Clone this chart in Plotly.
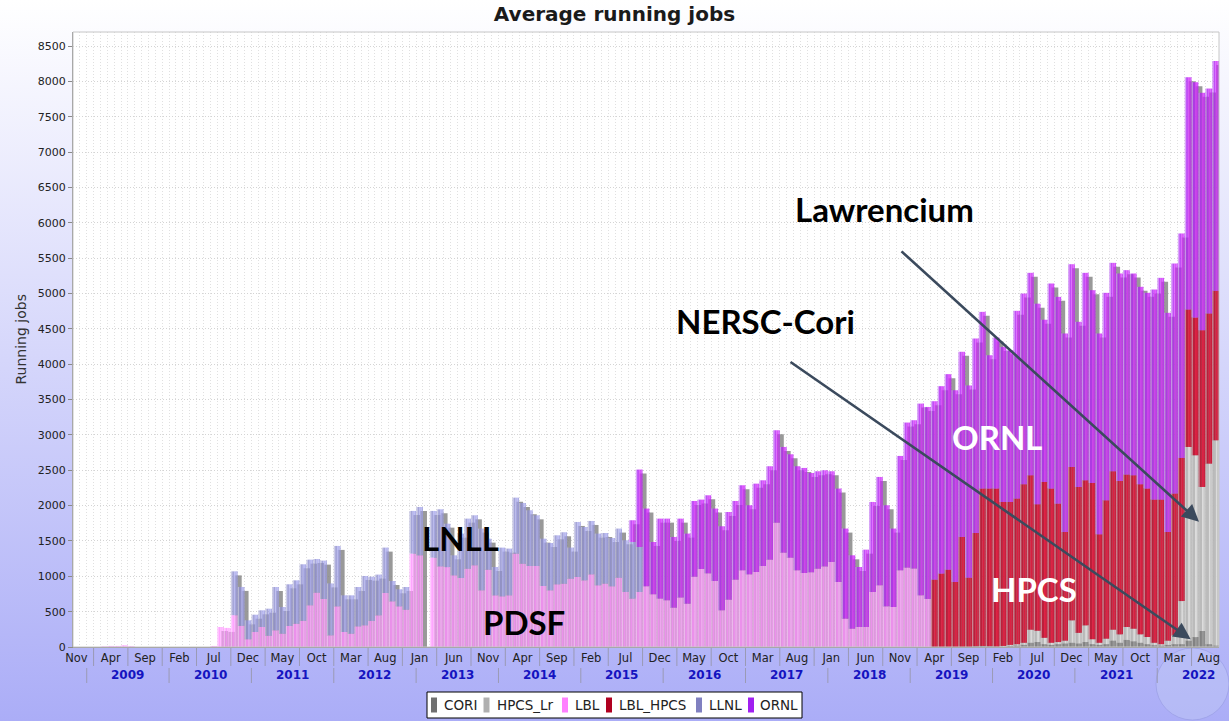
import base64
import pandas as pd
import plotly.graph_objects as go

# ---------------------------------------------------------------- data
months = pd.period_range("2008-11", "2022-09", freq="M")      # 167 monthly bins
N = len(months)
month_ticks = list(range(0, N, 5))
month_tick_labels = [months[i].strftime("%b") for i in month_ticks]
years = list(range(2009, 2023))
series_names = ["CORI", "HPCS_Lr", "LBL", "LBL_HPCS", "LLNL", "ORNL"]

Z12 = [0] * 12

CORI = ([0, 0]                                                    # 2008 Nov-Dec
        + Z12 * 10                                                # 2009-2018
        + [0, 0, 0, 0, 0, 0, 0, 0, 0, 10, 15, 10]                 # 2019
        + [5, 5, 15, 20, 30, 60, 70, 40, 30, 40, 50, 60]          # 2020
        + [50, 70, 40, 30, 40, 90, 60, 100, 80, 60, 40, 25]       # 2021
        + [20, 30, 40, 40, 90, 140, 226, 40, 20])                 # 2022 Jan-Sep

HPCS_Lr = ([0, 0]
           + Z12 * 11                                             # 2009-2019
           + [0, 10, 15, 20, 30, 185, 160, 90, 30, 30, 40, 317]   # 2020
           + [150, 236, 70, 30, 78, 155, 119, 183, 179, 119, 101, 35]  # 2021
           + [20, 60, 125, 610, 2740, 2572, 2038, 2554, 2904])    # 2022

LBL = ([0, 0]
       + [0, 0, 8, 15, 15, 25, 12, 0, 0, 0, 0, 0]                          # 2009
       + [0, 0, 0, 0, 0, 0, 15, 283, 270, 450, 300, 110]                   # 2010
       + [212, 283, 160, 236, 189, 297, 330, 370, 590, 769, 679, 165]      # 2011
       + [575, 212, 189, 292, 307, 368, 448, 764, 646, 575, 528, 1321]     # 2012
       + [1297, 0, 1264, 1141, 1130, 1014, 976, 1108, 1156, 802, 1094, 731]  # 2013
       + [717, 731, 1321, 1179, 1146, 1146, 863, 802, 887, 896, 967, 991]  # 2014
       + [943, 1028, 873, 897, 859, 981, 778, 685, 778, 859, 746, 685]     # 2015
       + [661, 557, 700, 613, 995, 1104, 1042, 934, 519, 670, 953, 1085]   # 2016
       + [1028, 1061, 1146, 1236, 1759, 1335, 1264, 1085, 1047, 1057, 1108, 1140]  # 2017
       + [1203, 920, 401, 259, 283, 283, 778, 873, 575, 566, 1085, 1123]   # 2018
       + [1110, 731, 680, 0, 0, 0, 0, 0, 0, 0, 0, 0]                       # 2019
       + Z12 * 2 + [0] * 9)                                                # 2020-2022

LBL_HPCS = ([0, 0]
            + Z12 * 10
            + [0, 0, 0, 953, 1038, 1094, 920, 1557, 981, 1603, 2226, 2231]        # 2019
            + [2236, 2037, 2022, 2059, 2242, 2184, 1789, 2205, 2181, 1958, 1537, 2170]  # 2020
            + [2064, 2052, 2211, 1534, 1957, 2241, 2170, 2156, 2170, 2123, 2100, 2025]  # 2021
            + [2045, 1537, 2005, 2025, 1944, 1948, 2217, 2124, 2114])             # 2022

LLNL = ([0, 0]
        + Z12                                                            # 2009
        + [0, 0, 0, 0, 0, 0, 0, 0, 0, 620, 550, 267]                     # 2010
        + [245, 236, 382, 613, 377, 590, 613, 800, 646, 476, 543, 735]   # 2011
        + [855, 519, 542, 557, 698, 627, 576, 642, 288, 241, 321, 604]   # 2012
        + [684, 0, 661, 807, 615, 283, 628, 708, 707, 873, 439, 401]     # 2013
        + [689, 661, 792, 859, 788, 717, 670, 669, 693, 727, 439, 778]   # 2014
        + [755, 755, 731, 716, 683, 694, 732, 801, 637, 0, 0, 0]         # 2015
        + Z12 * 6 + [0] * 9)                                             # 2016-2022

ORNL = ([0, 0]
        + Z12 * 6                                                              # 2009-2014
        + [0, 0, 0, 0, 0, 0, 0, 307, 1095, 1099, 740, 1131]                    # 2015
        + [1155, 1000, 1116, 991, 1071, 981, 1104, 1024, 1189, 1240, 1113, 1203]  # 2016
        + [977, 1250, 1212, 1321, 1307, 1495, 1462, 1472, 1486, 1405, 1378, 1360]  # 2017
        + [1283, 1321, 1274, 1038, 849, 1094, 1274, 1533, 1430, 1109, 1618, 2052]  # 2018
        + [2098, 2712, 2716, 2524, 2652, 2766, 2712, 2619, 2719, 2751, 2500, 1886]  # 2019
        + [2136, 2193, 2146, 2656, 2698, 2864, 2838, 2295, 2901, 2925, 2808, 2868]  # 2020
        + [2336, 2935, 2727, 2841, 2935, 2948, 2935, 2892, 2855, 2793, 2769, 2972]  # 2021
        + [3137, 3100, 3255, 3175, 3286, 3330, 3359, 3182, 3252])              # 2022

stack = [CORI, HPCS_Lr, LBL, LBL_HPCS, LLNL, ORNL]

# ---------------------------------------------------------------- styling
BASE_RGB = {"CORI": (112, 112, 112), "HPCS_Lr": (176, 176, 176), "LBL": (255, 128, 255),
            "LBL_HPCS": (176, 0, 32), "LLNL": (128, 128, 192), "ORNL": (160, 32, 240)}
ALPHA = 0.8
W, H = 1229, 721
ML, MR, MT, MB = 73, 10, 32, 74
PW, PH = W - ML - MR, H - MT - MB
YMAX = 8700
PX_X = PW / N
PX_Y = PH / YMAX
SH_DX = 4 / PX_X          # 4 px shadow offset, in data units
SH_DY = 4 / PX_Y

# gradient bar painter pieces: (start, end within slot, target, mix)
PIECES = [(0.0, 0.2, "w", 0.5), (0.2, 0.5, "b", 0.25), (0.5, 0.8, "b", 0.75), (0.8, 1.0, "b", 0.5)]


def brighter(c):
    f = 0.7
    k = int(1.0 / (1.0 - f))
    if c == (0, 0, 0):
        return (k, k, k)
    c = tuple(k if 0 < v < k else v for v in c)
    return tuple(min(int(v / f), 255) for v in c)


def mix(a, b, t):
    return tuple(round(a[j] + (b[j] - a[j]) * t) for j in range(3))


def rgba(c, a):
    return "rgba(%d,%d,%d,%.2f)" % (c[0], c[1], c[2], a)


def px_to_paper(px, py):
    return (px - ML) / PW, (H - MB - py) / PH


fig = go.Figure()
xs = list(range(N))
totals = [sum(s[i] for s in stack) for i in xs]

# shadows (drawn first, offset 4px right and 4px down)
sidx = [i for i in xs if totals[i] > SH_DY]
fig.add_bar(x=sidx, y=[totals[i] - SH_DY for i in sidx], base=0,
            offset=-0.5 + SH_DX, width=1.0,
            marker=dict(color=rgba((128, 128, 128), ALPHA), line=dict(width=0)),
            showlegend=False, hoverinfo="skip")

cum = [0] * N
for name, vals in zip(series_names, stack):
    c0 = BASE_RGB[name]
    c1 = brighter(c0)
    idx = [i for i in xs if vals[i] > 0]
    for s0, s1, tgt, t in PIECES:
        col = mix(c0, (255, 255, 255) if tgt == "w" else c1, t)
        fig.add_bar(x=idx, y=[vals[i] for i in idx], base=[cum[i] for i in idx],
                    offset=s0 - 0.5, width=s1 - s0, name=name, legendgroup=name,
                    marker=dict(color=rgba(col, ALPHA), line=dict(width=0)),
                    showlegend=False,
                    customdata=[str(months[i]) for i in idx],
                    hovertemplate=name + " %{customdata}: %{y}<extra></extra>")
    cum = [cum[i] + vals[i] for i in xs]

# ---------------------------------------------------------------- background
svg = ('<svg xmlns="http://www.w3.org/2000/svg" width="%d" height="%d">'
       '<defs><linearGradient id="g" x1="0" y1="0" x2="0" y2="1">'
       '<stop offset="0" stop-color="#ffffff"/><stop offset="1" stop-color="#abadf7"/>'
       '</linearGradient></defs><rect width="%d" height="%d" fill="url(#g)"/></svg>') % (W, H, W, H)
src = "data:image/svg+xml;base64," + base64.b64encode(svg.encode()).decode()
fig.add_layout_image(source=src, xref="paper", yref="paper", x=-ML / PW, y=1 + MT / PH,
                     sizex=W / PW, sizey=H / PH, xanchor="left", yanchor="top",
                     sizing="stretch", layer="below")

shapes = [dict(type="rect", xref="paper", yref="paper", x0=0, x1=1, y0=0, y1=1,
               fillcolor="white", line=dict(width=0), layer="below")]
# globe logo hint
gx0, gy0 = px_to_paper(1156, 720)
gx1, gy1 = px_to_paper(1229, 648)
shapes.append(dict(type="circle", xref="paper", yref="paper", x0=gx0, x1=gx1, y0=gy0, y1=gy1,
                   fillcolor="rgba(190,196,245,0.55)", line=dict(color="rgba(150,155,225,0.6)", width=1),
                   layer="below"))
# plot border
shapes.append(dict(type="rect", xref="paper", yref="paper", x0=0, x1=1, y0=0, y1=1,
                   line=dict(color="#c6c6c6", width=1), fillcolor="rgba(0,0,0,0)", layer="above"))
# month-label separators
for k in range(len(month_ticks) - 1):
    xv = month_ticks[k] + 2.5
    shapes.append(dict(type="line", xref="x", yref="paper", x0=xv, x1=xv,
                       y0=-(648 - (H - MB)) / PH, y1=-(666 - (H - MB)) / PH,
                       line=dict(color="#9a9ab4", width=1)))
# year separators
jan_idx = {y: (y - 2009) * 12 + 2 for y in years}
for y in years:
    xv = jan_idx[y] - 0.5
    shapes.append(dict(type="line", xref="x", yref="paper", x0=xv, x1=xv,
                       y0=-(668 - (H - MB)) / PH, y1=-(683 - (H - MB)) / PH,
                       line=dict(color="#9a9ab4", width=1)))

# manual legend
lx0, ly0 = px_to_paper(427, 718)
lx1, ly1 = px_to_paper(802, 692)
shapes.append(dict(type="rect", xref="paper", yref="paper", x0=lx0, x1=lx1, y0=ly0, y1=ly1,
                   fillcolor="white", line=dict(color="black", width=1)))
legend_swatch_x = [431, 483.5, 562, 606, 696, 748]
legend_text_x = [442, 495, 573, 617, 707, 758]
annotations = []
for name, sx, tx in zip(series_names, legend_swatch_x, legend_text_x):
    a0, b0 = px_to_paper(sx, 712.5)
    a1, b1 = px_to_paper(sx + 6, 697.5)
    shapes.append(dict(type="rect", xref="paper", yref="paper", x0=a0, x1=a1, y0=b0, y1=b1,
                       fillcolor=rgba(BASE_RGB[name], 1), line=dict(width=0)))
    tpx, tpy = px_to_paper(tx, 705)
    annotations.append(dict(text=name, xref="paper", yref="paper", x=tpx, y=tpy,
                            xanchor="left", yanchor="middle", showarrow=False,
                            font=dict(family="DejaVu Sans", size=13.5, color="#222")))

# year labels
for y in years:
    annotations.append(dict(text=str(y), xref="x", yref="paper", x=jan_idx[y] + 5.5,
                            y=-(675 - (H - MB)) / PH, xanchor="center", yanchor="middle",
                            showarrow=False,
                            font=dict(family="DejaVu Sans", size=12, color="#1414c0", weight="bold")))

# y axis title
ax_, ay_ = px_to_paper(20, 339.5)
annotations.append(dict(text="Running jobs", xref="paper", yref="paper", x=ax_, y=ay_,
                        textangle=-90, showarrow=False, xanchor="center", yanchor="middle",
                        font=dict(family="DejaVu Sans", size=14, color="#333")))

# big overlay labels
labels = [("Lawrencium", 884, 208.5, "black"), ("NERSC-Cori", 765, 320.5, "black"),
          ("ORNL", 996.5, 436.7, "white"), ("HPCS", 1033.5, 589.3, "white"),
          ("LNLL", 460, 538, "black"), ("PDSF", 524, 621.5, "black")]
for txt, px, py, colr in labels:
    xx, yy = px_to_paper(px, py)
    annotations.append(dict(text=txt, xref="paper", yref="paper", x=xx, y=yy,
                            xanchor="center", yanchor="middle", showarrow=False,
                            font=dict(family="Lato", size=33, color=colr, weight="bold")))

# arrows
arrows = [((900, 250), (1199, 521.7)), ((789, 361), (1190.7, 639.3))]
for (tx, ty), (hx, hy) in arrows:
    xx, yy = px_to_paper(hx, hy)
    annotations.append(dict(text="", xref="paper", yref="paper", x=xx, y=yy,
                            ax=tx - hx, ay=ty - hy, axref="pixel", ayref="pixel",
                            showarrow=True, arrowhead=2, arrowsize=1.3, arrowwidth=2.6,
                            arrowcolor="#3b4a5d", standoff=0, startstandoff=0))

fig.update_layout(
    width=W, height=H, margin=dict(l=ML, r=MR, t=MT, b=MB, pad=0),
    barmode="overlay", paper_bgcolor="#d6d7fb", plot_bgcolor="white",
    showlegend=False, font=dict(family="DejaVu Sans", color="#222"),
    title=dict(text="Average running jobs", x=0.5, xref="container", xanchor="center",
               y=1 - 14 / H, yref="container", yanchor="middle",
               font=dict(family="DejaVu Sans", size=20, color="#1a1a1a", weight="bold")),
    shapes=shapes, annotations=annotations,
)
fig.update_xaxes(range=[-0.5, N - 0.5], tickmode="array", tickvals=month_ticks,
                 ticktext=month_tick_labels, tickangle=0, ticks="", showgrid=False,
                 zeroline=False, showline=True, linecolor="#8a8a8a", linewidth=1,
                 tickfont=dict(family="DejaVu Sans", size=11.5, color="#222"),
                 minor=dict(tickmode="linear", tick0=0.5, dtick=1, showgrid=True,
                            gridcolor="#e0e0e0", griddash="1px,2px", gridwidth=1, ticks=""),
                 fixedrange=True)
fig.update_yaxes(range=[0, YMAX], tickmode="linear", tick0=0, dtick=500, tickformat="d",
                 ticks="outside", ticklen=4, tickcolor="#8a8a8a", showgrid=True,
                 gridcolor="#d4d4d4", griddash="1px,2px", zeroline=False, showline=True,
                 linecolor="#8a8a8a", linewidth=1,
                 tickfont=dict(family="DejaVu Sans", size=11, color="#222"), fixedrange=True)

fig.write_html("out.html", config={"displayModeBar": False},
               post_script="document.body.style.margin='0px';document.body.style.overflow='hidden';")
